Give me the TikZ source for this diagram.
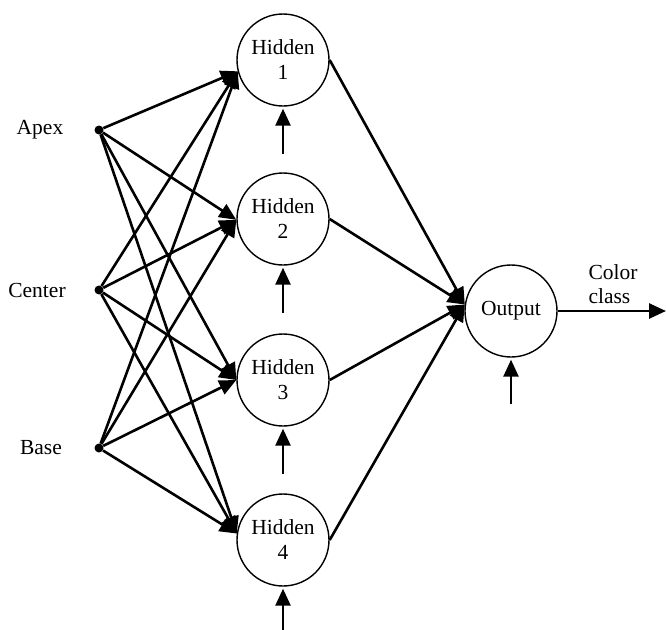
\documentclass[tikz,border=0pt]{standalone}
\usepackage{fontspec}
\setmainfont{Liberation Serif}
\usetikzlibrary{arrows.meta}
\begin{document}
\begin{tikzpicture}[x=1pt,y=-1pt,
  neuron/.style={circle,draw,line width=1.4pt,minimum size=92pt,inner sep=0pt,align=center,font=\fontsize{21.5}{25}\selectfont},
  indot/.style={circle,fill,inner sep=0pt,minimum size=9pt},
  lbl/.style={font=\fontsize{21.5}{24}\selectfont,align=center},
  conn/.style={line width=2.6pt,-{Triangle[length=17pt,width=15pt]}}]
\useasboundingbox (0,0) rectangle (666,629);
\node[indot] (apex) at (99,130) {};
\node[indot] (center) at (99,290) {};
\node[indot] (base) at (99,448) {};
\node[lbl] (lapex) at (40,130) {Apex};
\node[lbl] (lcenter) at (37,290) {Center};
\node[lbl] (lbase) at (41,448) {Base};
\node[neuron] (h1) at (283,60) {Hidden\\1};
\node[neuron] (h2) at (283,219) {Hidden\\2};
\node[neuron] (h3) at (283,380) {Hidden\\3};
\node[neuron] (h4) at (283,540) {Hidden\\4};
\node[neuron] (out) at (511,311) {Output};
\node[lbl,anchor=west,align=left] (lcolor) at (585,284) {Color\\class};
\coordinate (oend) at (666,311);
\foreach \i in {apex,center,base}{
  \draw[conn] (\i) -- (h1.194);
  \draw[conn] (\i) -- (h2.181);
  \draw[conn] (\i) -- (h3.180);
  \draw[conn] (\i) -- (h4.172);
}
\foreach \h in {h1,h2,h3,h4}{
  \draw[conn] (\h.east) -- (out.172);
  \coordinate (b\h) at ([yshift=-47pt]\h.south);
  \draw[conn] (b\h) -- ([yshift=-2pt]\h.south);
}
\coordinate (bout) at ([yshift=-46pt]out.south);
\draw[conn] (bout) -- ([yshift=-2pt]out.south);
\draw[conn] (out.east) -- (oend);
\end{tikzpicture}
\end{document}
